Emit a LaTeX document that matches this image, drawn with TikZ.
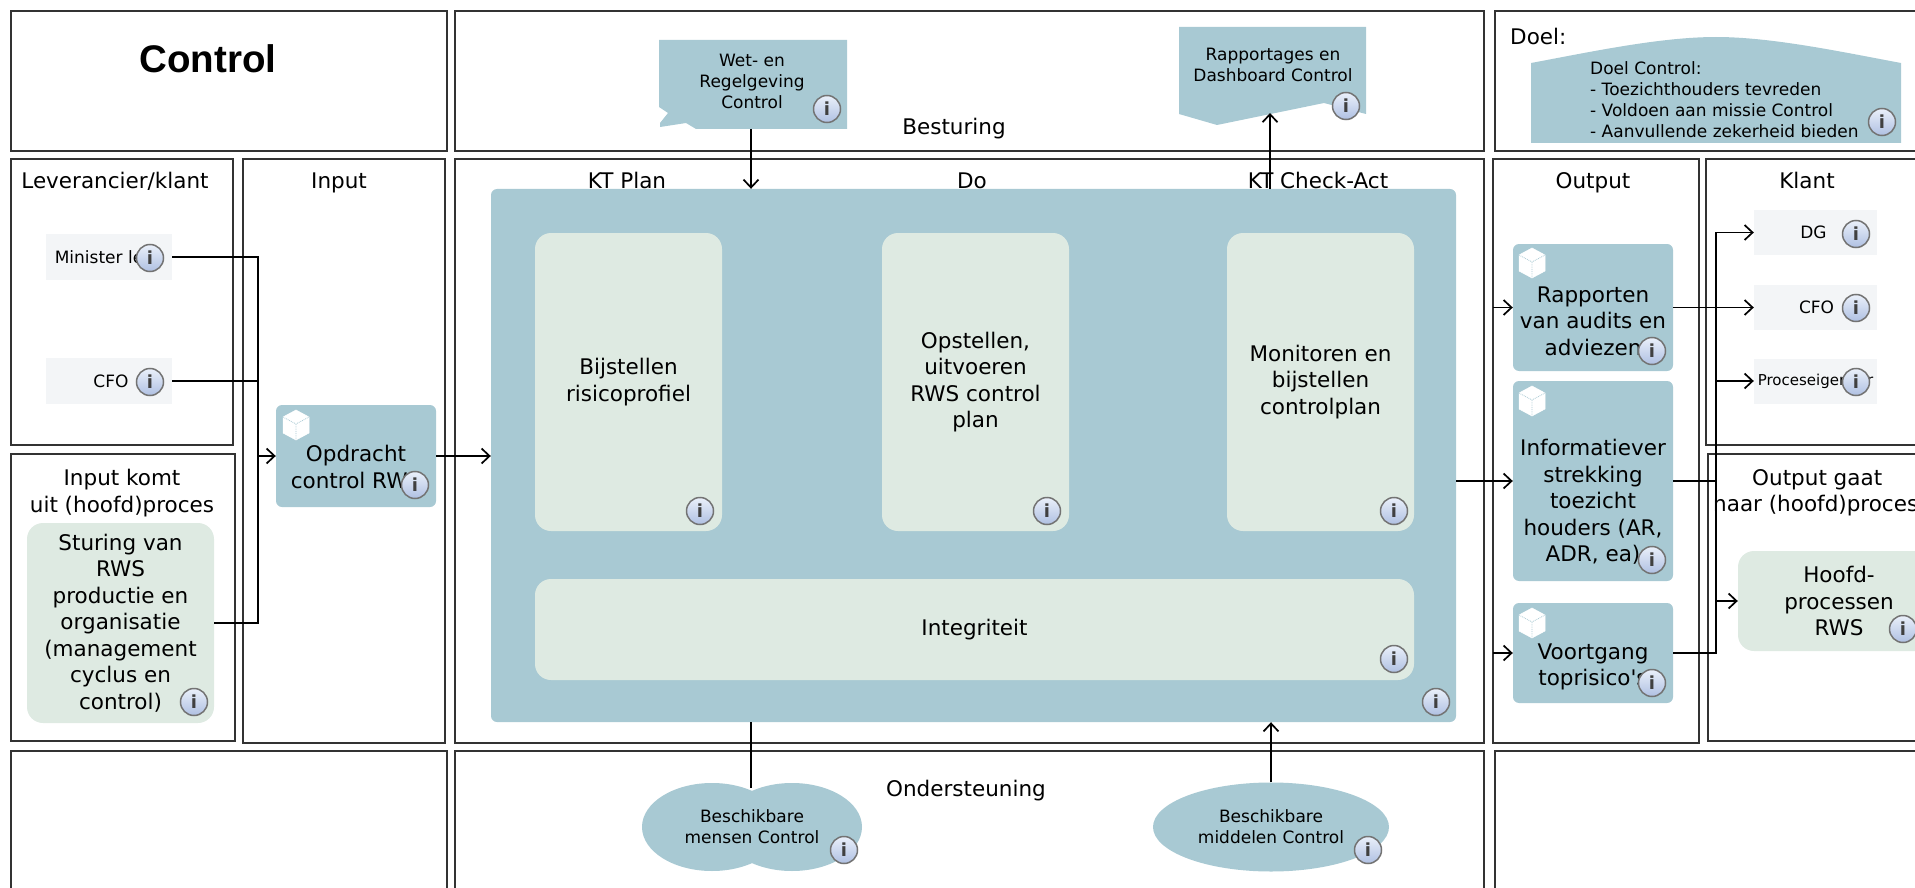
\documentclass[tikz,border=0pt]{standalone}
\usepackage{fontspec}
\setmainfont{DejaVu Sans}[Ligatures=TeXOff]
\newfontfamily\titlefont{Liberation Sans}
\usetikzlibrary{arrows.meta,shapes.geometric}
\definecolor{boxblue}{HTML}{A8C9D3}
\definecolor{boxgreen}{HTML}{DEEAE2}
\definecolor{boxgrey}{HTML}{F3F5F7}
\definecolor{icontop}{HTML}{EAF0FA}
\definecolor{iconbottom}{HTML}{AFC0E2}
\newcommand{\normaltext}{\fontsize{21.5pt}{26.5pt}\selectfont}
\newcommand{\smalltext}{\fontsize{17pt}{21pt}\selectfont}
\tikzset{
  frame/.style={draw=black!80, line width=1.6pt, fill=none},
  lanelabel/.style={font=\normaltext, align=center, inner sep=0pt},
  headlabel/.style={lanelabel, anchor=base},
  bluebox/.style={fill=boxblue, rounded corners=6pt, font=\normaltext, align=center, inner sep=0pt},
  greenbox/.style={fill=boxgreen, rounded corners=16pt, font=\normaltext, align=center, inner sep=0pt},
  greybox/.style={fill=boxgrey, font=\smalltext, align=center, inner sep=0pt},
  smalllabel/.style={font=\smalltext, align=center, inner sep=0pt},
  cubeicon/.style={fill=white, draw=white, line width=0.5pt},
  cubeline/.style={draw=boxblue, line width=0.8pt, densely dotted},
  infoicon/.style={circle, draw=black!55, line width=1.5pt, top color=icontop, bottom color=iconbottom,
    minimum size=27pt, inner sep=0pt, text=black!75, font=\fontsize{18pt}{18pt}\selectfont\bfseries},
  link/.style={draw=black, line width=1.7pt},
  arrowlink/.style={link, -{Straight Barb[length=8pt,width=15pt,line width=1.7pt]}}
}
\begin{document}
\begin{tikzpicture}[x=1pt, y=-1pt]
  \path[use as bounding box, clip] (0,0) rectangle (1915,888);

  \draw[frame] (11,11) rectangle (447,151);
  \draw[frame] (455,11) rectangle (1484,151);
  \draw[frame] (1495,11) rectangle (1935,151);
  \draw[frame] (11,159) rectangle (233,445);
  \draw[frame] (11,454) rectangle (235,741);
  \draw[frame] (243,159) rectangle (445,743);
  \draw[frame] (455,159) rectangle (1484,743);
  \draw[frame] (1493,159) rectangle (1699,743);
  \draw[frame] (1706,159) rectangle (1935,445);
  \draw[frame] (1708,454) rectangle (1935,741);
  \draw[frame] (11,751) rectangle (447,900);
  \draw[frame] (455,751) rectangle (1484,900);
  \draw[frame] (1495,751) rectangle (1935,900);

  \node[inner sep=0pt, font=\titlefont\fontsize{38.5pt}{44pt}\selectfont\bfseries] (control) at (208,59) {Control};
  \node[lanelabel] (besturing) at (954,128.5) {Besturing};
  \node[lanelabel, anchor=west] (doellabel) at (1510,36) {Doel:};
  \node[headlabel] (leverancier) at (115,189) {Leverancier/klant};
  \node[headlabel] (inputlabel) at (339,189) {Input};
  \node[lanelabel] (komtuit) at (122,493) {Input komt\\uit (hoofd)proces};
  \node[headlabel] (ktplan) at (627,189) {KT Plan};
  \node[headlabel] (dolabel) at (972,189) {Do};
  \node[headlabel] (ktcheck) at (1318,189) {KT Check-Act};
  \node[headlabel] (outputlabel) at (1593,189) {Output};
  \node[headlabel] (klantlabel) at (1807,189) {Klant};
  \node[lanelabel, anchor=west] (gaatnaar) at (1713,493) {\hspace*{3pt}Output gaat\\naar (hoofd)proces};
  \node[lanelabel] (ondersteuning) at (966,790.5) {Ondersteuning};

  % main process block
  \node[bluebox, minimum width=965pt, minimum height=533pt] (big) at (973.5,455.5) {};
  \node[greenbox, minimum width=187pt, minimum height=298pt] (bijstellen) at (628.5,382) {Bijstellen\\risicoprofiel};
  \node[greenbox, minimum width=187pt, minimum height=298pt] (opstellen) at (975.5,382) {Opstellen,\\uitvoeren\\RWS control\\plan};
  \node[greenbox, minimum width=187pt, minimum height=298pt] (monitoren) at (1320.5,382) {Monitoren en\\bijstellen\\controlplan};
  \node[greenbox, minimum width=879pt, minimum height=101pt] (integriteit) at (974.5,629.5) {Integriteit};

  \node[greybox, minimum width=126pt, minimum height=46pt] (minister) at (109,257) {\hspace*{-20pt}Minister le};
  \node[greybox, minimum width=126pt, minimum height=46pt] (levcfo) at (109,381) {\hspace*{4pt}CFO};
  \node[greenbox, minimum width=187pt, minimum height=200pt] (sturing) at (120.5,623) {Sturing van\\RWS\\productie en\\organisatie\\(management\\cyclus en\\control)};
  \node[bluebox, minimum width=160pt, minimum height=102pt] (opdracht) at (356,456) {};
  \node[lanelabel] (opdrachttext) at (356,467) {Opdracht\\control RWS};

  \node[bluebox, minimum width=160pt, minimum height=127pt] (rapporten) at (1593,307.5) {};
  \node[lanelabel] (rapportentext) at (1593,321) {Rapporten\\van audits en\\adviezen};
  \node[bluebox, minimum width=160pt, minimum height=200pt] (informatie) at (1593,481) {};
  \node[lanelabel] (informatietext) at (1593,502) {Informatiever\\strekking\\toezicht\\houders (AR,\\ADR, ea)};
  \node[bluebox, minimum width=160pt, minimum height=100pt] (voortgang) at (1593,653) {};
  \node[lanelabel] (voortgangtext) at (1593,667) {Voortgang\\toprisico's};

  \node[greybox, minimum width=123pt, minimum height=45pt] (dg) at (1815.5,232.5) {\hspace*{-4pt}DG};
  \node[greybox, minimum width=123pt, minimum height=45pt] (klantcfo) at (1815.5,307.5) {\hspace*{2pt}CFO};
  \node[greybox, minimum width=123pt, minimum height=45pt, font=\fontsize{15pt}{18pt}\selectfont] (proces) at (1815.5,381) {Proceseigenaar};
  \node[greenbox, minimum width=202pt, minimum height=100pt] (hoofd) at (1839,601) {Hoofd-\\processen\\RWS};

  % shapes on the top and bottom lanes
  \fill[boxblue] (659,40) -- (847,40) -- (847,129) -- (696,129) -- (686,123) -- (660,127) -- (660,123) -- (668,113) -- (659,107) -- cycle;
  \node[smalllabel] (wet) at (752,81) {Wet- en\\Regelgeving\\Control};
  \fill[boxblue] (1179,27) -- (1366,27) -- (1366,114) -- (1324,103) -- (1217,125) -- (1179,114) -- cycle;
  \node[smalllabel] (rapportages) at (1273,65) {Rapportages en\\Dashboard Control};
  \fill[boxblue] (1531,143) -- (1531,63) .. controls (1590,52) and (1660,37) .. (1716,37) .. controls (1772,37) and (1842,52) .. (1901,63) -- (1901,143) -- cycle;
  \node[smalllabel, align=left, anchor=west] (doel) at (1590,100) {Doel Control:\\- Toezichthouders tevreden\\- Voldoen aan missie Control\\- Aanvullende zekerheid bieden};
  \fill[boxblue] (712,827) ellipse [x radius=70, y radius=44];
  \fill[boxblue] (792,827) ellipse [x radius=70, y radius=44];
  \node[smalllabel] (mensen) at (752,827) {Beschikbare\\mensen Control};
  \node[ellipse, fill=boxblue, minimum width=236pt, minimum height=89pt, inner sep=0pt, font=\smalltext, align=center] (middelen) at (1271,827) {Beschikbare\\middelen Control};

  % cubes
  \filldraw[cubeicon] (283,417) -- ++(13,-7) -- ++(13,7) -- ++(0,16) -- ++(-13,7) -- ++(-13,-7) -- cycle;
  \draw[cubeline] (283,417) -- ++(13,7) -- ++(13,-7) (296,424) -- ++(0,16);
  \filldraw[cubeicon] (1519,255) -- ++(13,-7) -- ++(13,7) -- ++(0,16) -- ++(-13,7) -- ++(-13,-7) -- cycle;
  \draw[cubeline] (1519,255) -- ++(13,7) -- ++(13,-7) (1532,262) -- ++(0,16);
  \filldraw[cubeicon] (1519,393) -- ++(13,-7) -- ++(13,7) -- ++(0,16) -- ++(-13,7) -- ++(-13,-7) -- cycle;
  \draw[cubeline] (1519,393) -- ++(13,7) -- ++(13,-7) (1532,400) -- ++(0,16);
  \filldraw[cubeicon] (1519,615) -- ++(13,-7) -- ++(13,7) -- ++(0,16) -- ++(-13,7) -- ++(-13,-7) -- cycle;
  \draw[cubeline] (1519,615) -- ++(13,7) -- ++(13,-7) (1532,622) -- ++(0,16);

  % connectors
  \coordinate (busin) at (258,456);
  \coordinate (busout) at (1716,232.5);
  \coordinate (wetout) at (751,129);
  \coordinate (rapportin) at (1270,113);
  \coordinate (mensenout) at (751,788);
  \coordinate (stubrapporten) at (1493,307.5);
  \coordinate (stubvoortgang) at (1493,653);

  \draw[link] (minister.east) -| (busin);
  \draw[link] (levcfo.east) -| (busin);
  \draw[link] (sturing.east) -| (busin);
  \draw[arrowlink] (busin) -- (opdracht.west);
  \draw[arrowlink] (opdracht.east) -- (opdracht.east -| big.west);
  \draw[arrowlink] (wetout) -- (wetout |- big.north);
  \draw[arrowlink] (rapportin |- big.north) -- (rapportin);
  \draw[link, line width=1.2pt] (mensenout) -- (mensenout |- big.south);
  \draw[arrowlink] (middelen.north) -- (middelen.north |- big.south);
  \draw[arrowlink] (informatie.west -| big.east) -- (informatie.west);
  \draw[arrowlink] (stubrapporten) -- (rapporten.west);
  \draw[arrowlink] (stubvoortgang) -- (voortgang.west);
  \draw[arrowlink] (rapporten.east) -- (klantcfo.west);
  \draw[link] (informatie.east) -- (informatie.east -| busout);
  \draw[arrowlink] (voortgang.east) -| (busout) -- (dg.west);
  \draw[arrowlink] (busout |- proces.west) -- (proces.west);
  \draw[arrowlink] (busout |- hoofd.west) -- (hoofd.west);

  % info badges
  \node[infoicon] (iminister) at (150,258) {i};
  \node[infoicon] (ilevcfo) at (150,382) {i};
  \node[infoicon] (iopdracht) at (415,485) {i};
  \node[infoicon] (isturing) at (194,702) {i};
  \node[infoicon] (ibijstellen) at (700,511) {i};
  \node[infoicon] (iopstellen) at (1047,511) {i};
  \node[infoicon] (imonitoren) at (1394,511) {i};
  \node[infoicon] (iintegriteit) at (1394,659) {i};
  \node[infoicon] (ibig) at (1436,702) {i};
  \node[infoicon] (irapporten) at (1652,351) {i};
  \node[infoicon] (iinformatie) at (1652,560) {i};
  \node[infoicon] (ivoortgang) at (1652,683) {i};
  \node[infoicon] (idg) at (1856,234) {i};
  \node[infoicon] (iklantcfo) at (1856,308) {i};
  \node[infoicon] (iproces) at (1856,382) {i};
  \node[infoicon] (ihoofd) at (1903,629) {i};
  \node[infoicon] (iwet) at (827,109) {i};
  \node[infoicon] (irapportages) at (1346,106) {i};
  \node[infoicon] (idoel) at (1882,122) {i};
  \node[infoicon] (imensen) at (844,850) {i};
  \node[infoicon] (imiddelen) at (1368,850) {i};
\end{tikzpicture}
\end{document}
